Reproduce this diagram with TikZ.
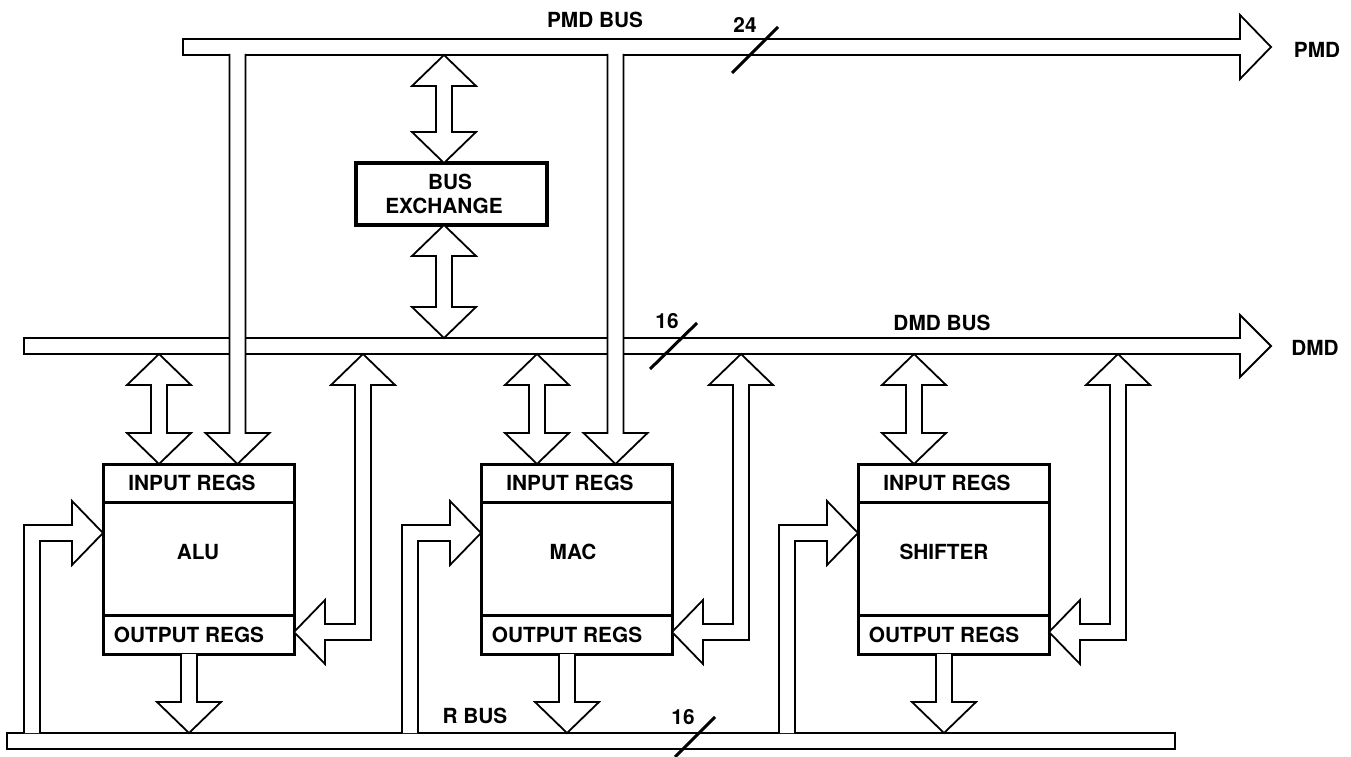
\documentclass[tikz,border=0pt]{standalone}
\usepackage{fontspec}
\setmainfont{TeX Gyre Heros}
\usetikzlibrary{calc}
\def\fhw{32pt}\def\fhl{31pt}\def\fsw{8pt}
\tikzset{
  pipe/.style={line width=1.8pt, line join=miter, fill=white},
  busline/.style={line width=1.8pt, line join=miter, fill=white},
  regbox/.style={draw, line width=3pt, minimum width=191pt, inner sep=0pt, outer sep=0pt},
  xbox/.style={draw, line width=3.5pt, minimum width=191pt, minimum height=62pt, inner sep=0pt, outer sep=0pt},
  lbl/.style={font=\fontsize{20.8}{24}\selectfont\bfseries, inner sep=0pt, text height=15pt, text depth=0pt},
  slash/.style={line width=3pt}
}
% vertical double-headed hollow arrow: #1 x point, #2 top tip, #3 bottom tip
\newcommand\dblv[3]{\draw[pipe] let \p1=(#1),\p2=(#2),\p3=(#3) in
  (\x1,\y2) -- (\x1+\fhw,\y2-\fhl) -- (\x1+\fsw,\y2-\fhl) -- (\x1+\fsw,\y3+\fhl) -- (\x1+\fhw,\y3+\fhl) -- (\x1,\y3)
  -- (\x1-\fhw,\y3+\fhl) -- (\x1-\fsw,\y3+\fhl) -- (\x1-\fsw,\y2-\fhl) -- (\x1-\fhw,\y2-\fhl) -- cycle;}
% vertical single-headed hollow arrow pointing down: [overlap] #2 x point, #3 start, #4 tip
\newcommand\downv[4][0pt]{\draw[pipe] let \p1=(#2),\p2=(#3),\p3=(#4) in
  (\x1-\fsw,\y2+#1) -- (\x1-\fsw,\y3+\fhl) -- (\x1-\fhw,\y3+\fhl) -- (\x1,\y3) -- (\x1+\fhw,\y3+\fhl) -- (\x1+\fsw,\y3+\fhl) -- (\x1+\fsw,\y2+#1);}
% bent arrow from R bus up and right into a block: #1 vertical x point, #2 tip, #3 bus top
\newcommand\bentin[3]{\draw[pipe] let \p1=(#1),\p2=(#2),\p3=(#3) in
  (\x1-\fsw,\y3) -- (\x1-\fsw,\y2+\fsw) -- (\x2-\fhl,\y2+\fsw) -- (\x2-\fhl,\y2+\fhw) -- (\x2,\y2)
  -- (\x2-\fhl,\y2-\fhw) -- (\x2-\fhl,\y2-\fsw) -- (\x1+\fsw,\y2-\fsw) -- (\x1+\fsw,\y3);}
% bent double arrow between a block's right side and the DMD bus: #1 left tip, #2 vertical x point, #3 top tip
\newcommand\bentout[3]{\draw[pipe] let \p1=(#1),\p2=(#2),\p3=(#3) in
  (\x1,\y1) -- (\x1+\fhl,\y1+\fhw) -- (\x1+\fhl,\y1+\fsw) -- (\x2-\fsw,\y1+\fsw) -- (\x2-\fsw,\y3-\fhl)
  -- (\x2-\fhw,\y3-\fhl) -- (\x2,\y3) -- (\x2+\fhw,\y3-\fhl) -- (\x2+\fsw,\y3-\fhl) -- (\x2+\fsw,\y1-\fsw)
  -- (\x1+\fhl,\y1-\fsw) -- (\x1+\fhl,\y1-\fhw) -- cycle;}
\begin{document}
\begin{tikzpicture}[x=1pt,y=-1pt]
\useasboundingbox (0,0) rectangle (1351,757);
% buses
\draw[busline] (183,39) -- (1240,39) -- (1240,15) -- (1271,47) -- (1240,79) -- (1240,55) -- (183,55) -- cycle;
\draw[busline] (24,338) -- (1240,338) -- (1240,315) -- (1271,346) -- (1240,377) -- (1240,354) -- (24,354) -- cycle;
\draw[busline] (7,733) rectangle (1175,749);
\coordinate (pmdbot) at (700,55);
\coordinate (dmdtop) at (700,338);
\coordinate (dmdbot) at (700,354);
\coordinate (rtop) at (700,733);
% labels on buses
\node[lbl] (pmdbus) at (595,20) {PMD BUS};
\node[lbl] (n24) at (745,25) {24};
\draw[slash] (732,73) -- (778,27);
\node[lbl] (pmdout) at (1317,50) {PMD};
\node[lbl] (dmdbus) at (942,323) {DMD BUS};
\node[lbl] (n16a) at (667,321) {16};
\draw[slash] (650,369) -- (697,323);
\node[lbl] (dmdout) at (1315,348) {DMD};
\node[lbl] (rbus) at (475,716) {R BUS};
\node[lbl] (n16b) at (683,717) {16};
\draw[slash] (675,757) -- (715,717);
% bus exchange
\node[xbox] (bx) at (451.5,194) {};
\node[lbl] (bxt1) at (450,182) {BUS};
\node[lbl] (bxt2) at (444,206) {EXCHANGE};
\dblv{$(bx.north)+(-7.5,0)$}{pmdbot}{bx.north}
\dblv{$(bx.south)+(-7.5,0)$}{bx.south}{dmdtop}
% blocks
\foreach \nm/\lx in {alu/103, mac/481, sh/858}{
  \node[regbox, minimum height=38pt, anchor=north west] (\nm in) at (\lx,464) {};
  \node[regbox, minimum height=113pt, anchor=north] (\nm) at (\nm in.south) {};
  \node[regbox, minimum height=39pt, anchor=north] (\nm out) at (\nm.south) {};
  \node[lbl] (\nm inT) at ($(\nm in.north west)+(89,19)$) {INPUT REGS};
  \node[lbl] (\nm outT) at ($(\nm in.north west)+(86,171)$) {OUTPUT REGS};
}
\node[lbl] (aluT) at ($(aluin.north west)+(95,88)$) {ALU};
\node[lbl] (macT) at ($(macin.north west)+(92,88)$) {MAC};
\node[lbl] (shT) at ($(shin.north west)+(86,88)$) {SHIFTER};
% connections of the blocks
\foreach \nm in {alu, mac, sh}{
  \dblv{$(\nm in.north west)+(56,0)$}{dmdbot}{\nm in.north}
  \downv{$(\nm out.south west)+(86,0)$}{\nm out.south}{rtop}
  \bentin{$(\nm in.north west)+(-71,0)$}{$(\nm in.north west)+(0,69)$}{rtop}
  \bentout{$(\nm in.north east)+(0,168)$}{$(\nm in.north east)+(69,0)$}{dmdbot}
}
% PMD pipes into ALU and MAC
\downv[1pt]{$(aluin.north west)+(134.5,0)$}{pmdbot}{aluin.north}
\downv[1pt]{$(macin.north west)+(134.5,0)$}{pmdbot}{macin.north}
\end{tikzpicture}
\end{document}
